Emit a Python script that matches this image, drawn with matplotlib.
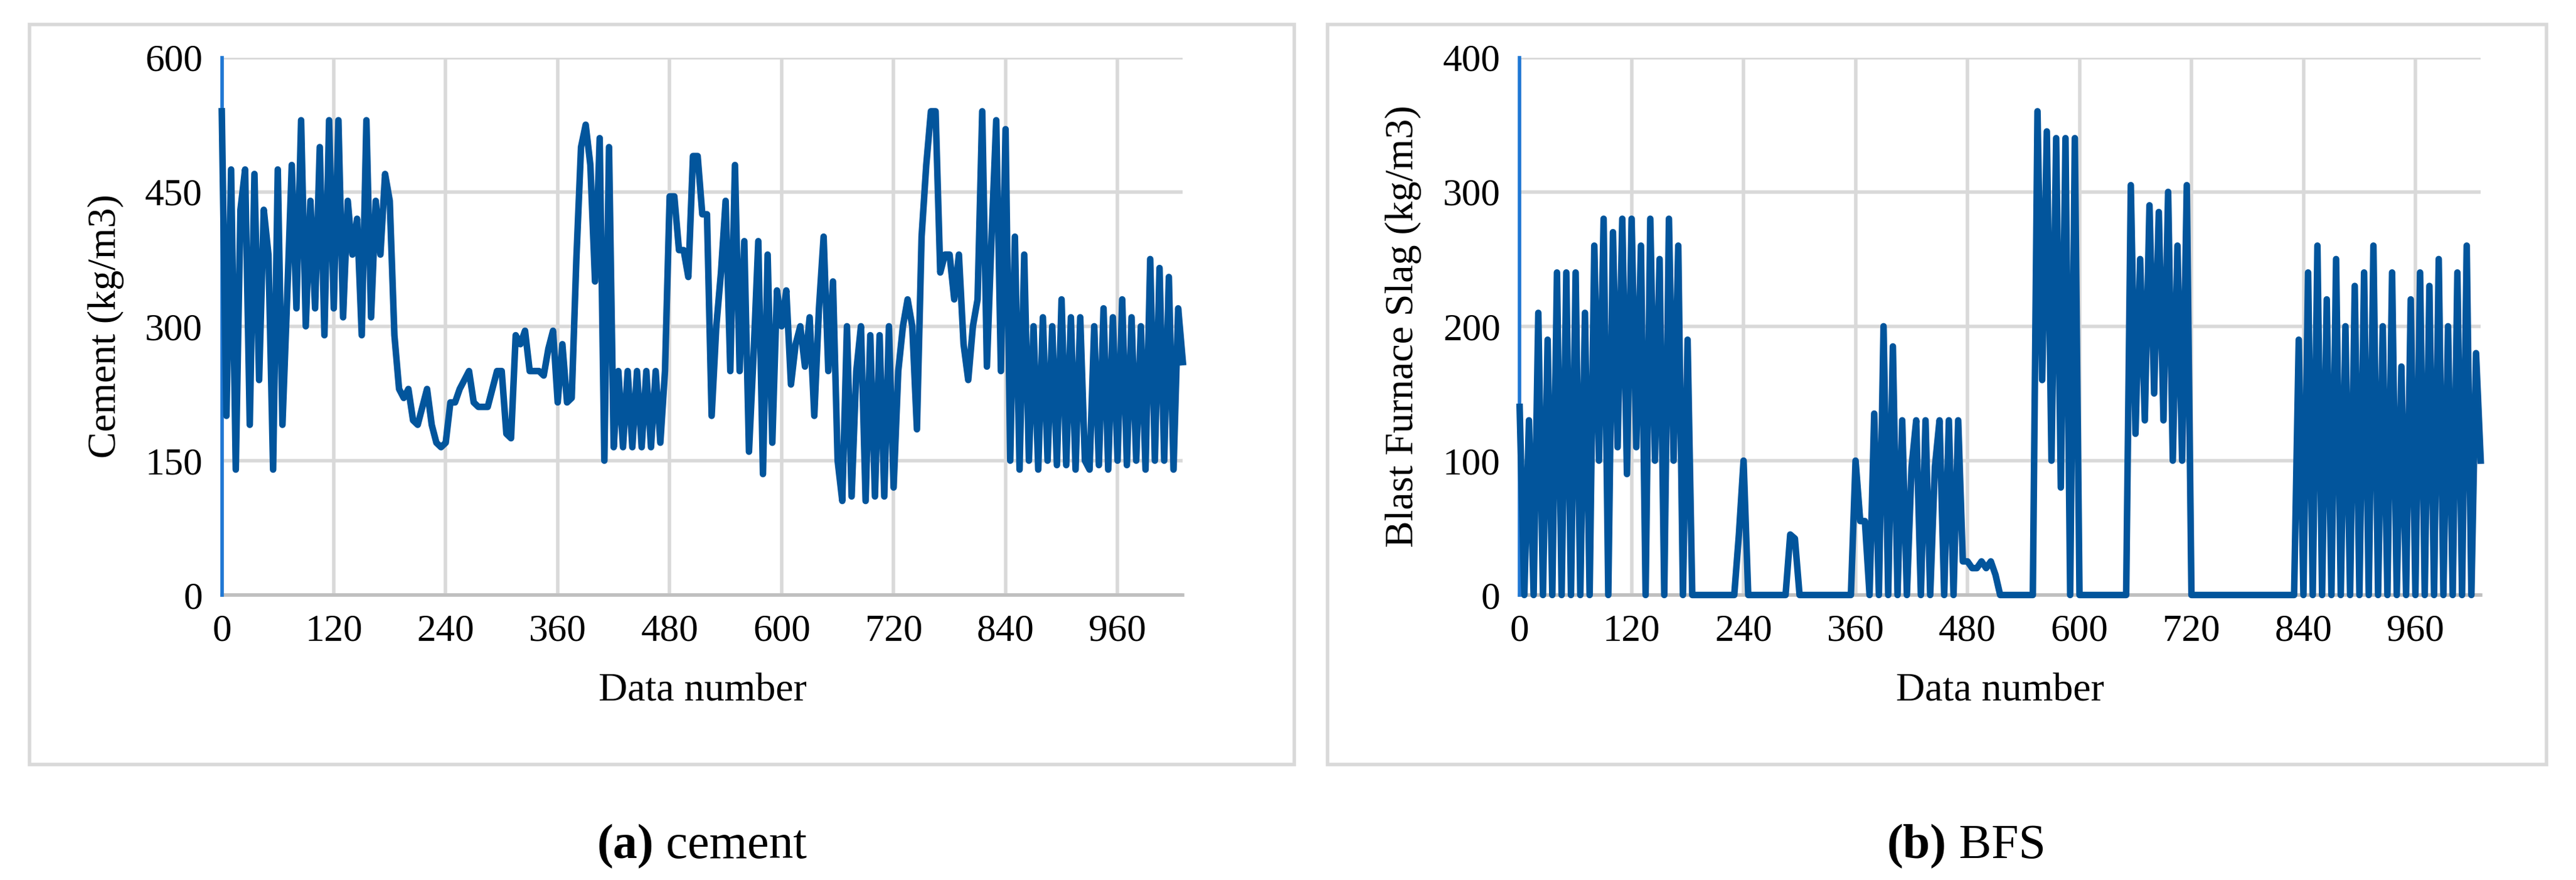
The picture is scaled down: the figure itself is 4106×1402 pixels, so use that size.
import numpy as np
import matplotlib
matplotlib.use("Agg")
import matplotlib.pyplot as plt
from matplotlib.patches import Rectangle

cement = [540,200,475,140,430,475,190,470,240,430,380,140,475,
190,330,480,320,530,300,440,320,500,290,530,320,
530,310,440,380,420,290,530,310,440,380,470,440,
290,230,220,230,195,190,210,230,190,170,165,170,
215,215,230,240,250,215,210,210,210,230,250,250,
180,175,290,280,295,250,250,250,245,275,295,215,
280,215,220,375,500,525,480,350,510,150,500,165,
250,165,250,165,250,165,250,165,250,170,250,445,
445,385,385,355,490,490,425,425,200,300,360,440,
250,480,250,395,160,270,395,135,380,170,340,300,
340,235,280,300,255,310,200,320,400,250,350,150,
105,300,110,250,300,105,290,110,290,110,300,120,
250,300,330,300,185,400,480,540,540,360,380,380,
330,380,280,240,300,330,540,255,400,530,250,520,
150,400,140,380,150,300,140,310,150,300,145,330,
145,310,140,310,150,140,300,145,320,140,310,150,
330,145,310,150,300,140,375,150,365,150,355,140,320,260]

bfs = [140,0,130,0,210,0,190,0,240,0,240,0,240,
0,210,0,260,100,280,0,270,110,280,90,280,
110,260,0,280,100,250,0,280,100,260,0,190,
0,0,0,0,0,0,0,0,0,0,45,100,
0,0,0,0,0,0,0,0,0,45,42,0,
0,0,0,0,0,0,0,0,0,0,0,100,
55,55,0,135,0,200,0,185,0,130,0,95,
130,0,130,0,95,130,0,130,0,130,25,25,
20,20,25,20,25,15,0,0,0,0,0,0,
0,0,360,160,345,100,340,80,340,0,340,0,
0,0,0,0,0,0,0,0,0,0,305,120,
250,130,290,150,285,130,300,100,260,100,305,0,
0,0,0,0,0,0,0,0,0,0,0,0,
0,0,0,0,0,0,0,0,0,0,190,0,
240,0,260,0,220,0,250,0,200,0,230,0,
240,0,260,0,200,0,240,0,170,0,220,0,
240,0,230,0,250,0,200,0,240,0,260,0,180,100]

xticks = [0,120,240,360,480,600,720,840,960]
S = 4106/1568

plt.rcParams['font.family'] = ['Liberation Serif', 'DejaVu Serif']
fig = plt.figure(figsize=(41.06, 14.02), dpi=100)
W, H = 4106, 1402

def px(x0, y0, x1, y1):
    return [x0*S/W, 1-y1*S/H, (x1-x0)*S/W, (y1-y0)*S/H]

for (bx0, bx1) in [(18, 788), (808, 1550)]:
    fig.patches.append(Rectangle((bx0*S/W, 1-465*S/H), (bx1-bx0)*S/W, (465-15)*S/H,
                                 transform=fig.transFigure, fill=False,
                                 edgecolor='#d9d9d9', lw=4))

panels = [
    (cement, px(135, 35, 720, 362), [0,150,300,450,600], 'Cement (kg/m3)', '(a)', ' cement', 398),
    (bfs, px(925, 35, 1510, 362), [0,100,200,300,400], 'Blast Furnace Slag (kg/m3)', '(b)', ' BFS', 1185),
]
for vals, rect, yt, ylab, tag, cap, cx in panels:
    ax = fig.add_axes(rect)
    x = np.linspace(0, 1030, len(vals))
    ax.plot(x, vals, color='#02559c', lw=7.5, zorder=5, clip_on=False)
    ax.set_xlim(0, 1030)
    ax.set_ylim(yt[0], yt[-1])
    ax.set_xticks(xticks)
    ax.set_yticks(yt)
    ax.grid(True, color='#d9d9d9', lw=4)
    ax.set_axisbelow(True)
    for s in ['top', 'right']:
        ax.spines[s].set_visible(False)
    ax.spines['left'].set_color('#1f77d4')
    ax.spines['left'].set_linewidth(4)
    ax.spines['bottom'].set_color('#bfbfbf')
    ax.spines['bottom'].set_linewidth(4)
    ax.spines['bottom'].set_zorder(1)
    ax.tick_params(length=0, labelsize=44, pad=22)
    ax.set_xlabel('Data number', fontsize=46, labelpad=28)
    ax.set_ylabel(ylab, fontsize=46, labelpad=24)
    fig.text(cx*S/W, 1-515*S/H, tag, fontsize=56, fontweight='bold', ha='right', va='center')
    fig.text(cx*S/W, 1-515*S/H, cap, fontsize=56, ha='left', va='center')

fig.savefig('out.png', dpi=100)
